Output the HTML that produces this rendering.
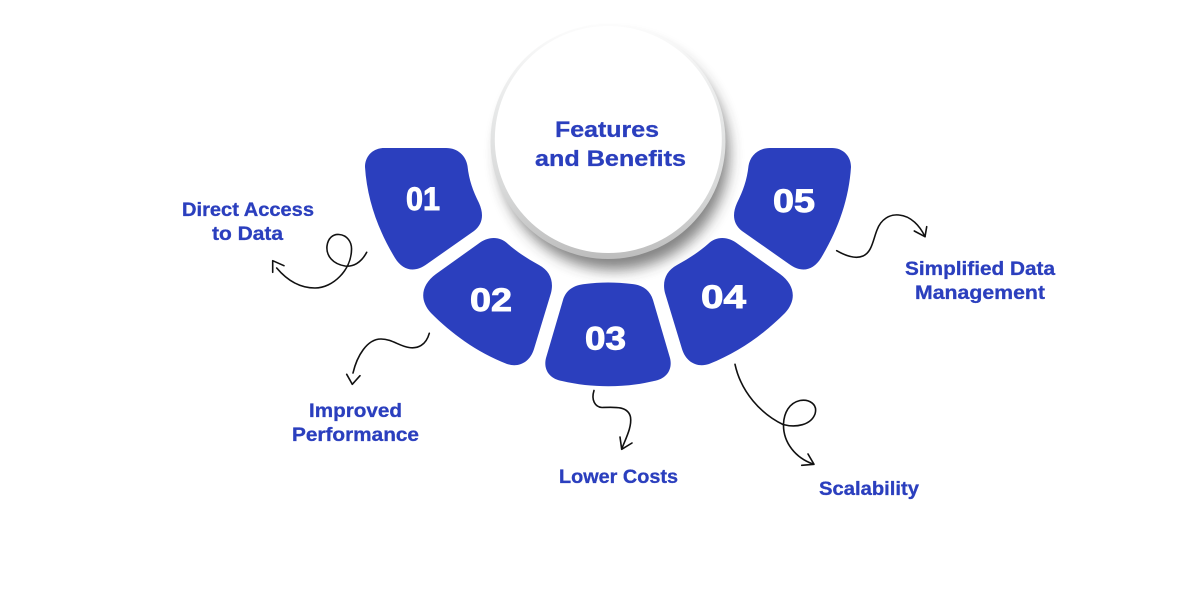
<!DOCTYPE html>
<html><head><meta charset="utf-8"><style>html,body{margin:0;padding:0;background:#fff}svg{display:block}
text{font-family:"Liberation Sans",sans-serif;font-weight:700}</style></head>
<body>
<svg width="1200" height="600" viewBox="0 0 1200 600" xmlns="http://www.w3.org/2000/svg">
<defs>
<linearGradient id="rim" x1="0.5" y1="0" x2="0.5" y2="1"><stop offset="0" stop-color="#fcfcfc"/><stop offset="0.35" stop-color="#e8e9e9"/><stop offset="0.7" stop-color="#d8d9d9"/><stop offset="1" stop-color="#bdbdbd"/></linearGradient>
<filter id="bl" x="-30%" y="-30%" width="160%" height="160%"><feGaussianBlur stdDeviation="7"/></filter>
<path id="s1" d="M365 167C365 156 373 148 384 148L446 148C458 148 466 156 467.500 166C469 180 473 191 479 203C484 214 483 224 474 231L427 264C415 273 403 271 395 258C378 230 367 199 365 167Z"/>
<path id="s2" d="M436 274L478 244C488 236 500 236 508 244C517 252 528 259 539 265C550 271 554 281 551 293L534 349C530 362 519 368 507 364C476 352 451 333 431 313C419 300 421 285 436 274Z"/>
</defs>
<ellipse cx="614" cy="154" rx="115" ry="116" fill="#333" opacity=".6" filter="url(#bl)"/>
<circle cx="608" cy="141.500" r="117.500" fill="url(#rim)"/>
<circle cx="608.300" cy="139.500" r="113.500" fill="#fff"/>
<g fill="#2b3fbe">
<use href="#s1"/><use href="#s2"/>
<use href="#s1" transform="matrix(-1 0 0 1 1216 0)"/><use href="#s2" transform="matrix(-1 0 0 1 1216 0)"/>
<path d="M585 284C600 282 616 282 632 284C642 285 650 290 653 300L670 358C673 370 666 379 654 381C625 388 592 388 562 381C550 379 543 370 546 358L563 300C566 290 574 285 585 284Z"/>
</g>
<g fill="#fff" font-size="32" stroke="#fff" stroke-width=".9">
<text x="406" y="210" textLength="34" lengthAdjust="spacingAndGlyphs">01</text>
<text x="470" y="311" textLength="42" lengthAdjust="spacingAndGlyphs">02</text>
<text x="585" y="349.500" textLength="41" lengthAdjust="spacingAndGlyphs">03</text>
<text x="701" y="308" textLength="45" lengthAdjust="spacingAndGlyphs">04</text>
<text x="773" y="212" textLength="42" lengthAdjust="spacingAndGlyphs">05</text>
</g>
<g fill="#2b3fbe" font-size="22" stroke="#2b3fbe" stroke-width=".3">
<text x="555" y="137" textLength="104" lengthAdjust="spacingAndGlyphs">Features</text>
<text x="535" y="166" textLength="151" lengthAdjust="spacingAndGlyphs">and Benefits</text>
</g>
<g fill="#2b3fbe" font-size="19" stroke="#2b3fbe" stroke-width=".3">
<text x="182" y="216" textLength="132" lengthAdjust="spacingAndGlyphs">Direct Access</text>
<text x="212" y="240" textLength="71" lengthAdjust="spacingAndGlyphs">to Data</text>
<text x="905" y="275" textLength="150" lengthAdjust="spacingAndGlyphs">Simplified Data</text>
<text x="915" y="299" textLength="130" lengthAdjust="spacingAndGlyphs">Management</text>
<text x="309" y="417" textLength="93" lengthAdjust="spacingAndGlyphs">Improved</text>
<text x="292" y="441" textLength="127" lengthAdjust="spacingAndGlyphs">Performance</text>
<text x="559" y="483" textLength="119" lengthAdjust="spacingAndGlyphs">Lower Costs</text>
<text x="819" y="495" textLength="100" lengthAdjust="spacingAndGlyphs">Scalability</text>
</g>
<g fill="none" stroke="#111" stroke-width="1.600" stroke-linecap="round" stroke-linejoin="round">
<path d="M366.700 252.300C361 263 353 267 345 266C333 264 326 256 327 246C328 238 333 234 339 234.500C347 235 352 242 351.500 250C351 270 333 288 315 288C299 288 286 279 276.700 268"/>
<path d="M272.700 272.300L272.700 260.700L284 265.700"/>
<path d="M429.300 333.300C426 345 418 349 409 347.500C399 346 392 339 381 339C367 339 357 356 353 373"/>
<path d="M346.700 374.300L352.300 384.300L360 375.700"/>
<path d="M594 390.500C591 400 595 407 602 407.500C615 407 628 406 630.500 417C632 427 626 438 621.700 449"/>
<path d="M620 437L621.700 449.300L632 443"/>
<path d="M735 364.300C741 392 761 414 783 424.500C796 428 811 425 815 414C818 404 809 399 800 400.500C789 403 784 413 783.500 424C783 443 796 458 813 464"/>
<path d="M808 454L814 464.300L801.700 465.300"/>
<path d="M836.700 250.700C846 256 856 259 863 256C872 252 873 240 877 230C881 219 890 214 899 215C911 216 920 226 925 236.700"/>
<path d="M914.300 231L925 236.700L926.700 226.700"/>
</g>
</svg>
</body></html>
